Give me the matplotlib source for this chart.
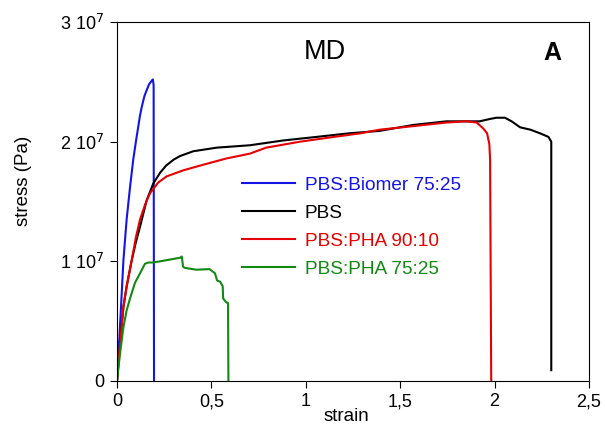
import numpy as np
import matplotlib.pyplot as plt
from matplotlib.ticker import FuncFormatter

plt.rcParams['font.family'] = ['Liberation Sans', 'DejaVu Sans']

# strain / stress (Pa)
strain_biomer = [0, 0.005, 0.012, 0.034, 0.051, 0.069, 0.086, 0.1, 0.113, 0.122, 0.131, 0.145, 0.157, 0.17, 0.184, 0.19, 0.194, 0.196]
stress_biomer = [0, 0.3e7, 0.34e7, 1.01e7, 1.35e7, 1.62e7, 1.85e7, 2.0e7, 2.13e7, 2.22e7, 2.29e7, 2.38e7, 2.43e7, 2.48e7, 2.51e7, 2.52e7, 2.47e7, 0]

strain_pbs = [0, 0.016, 0.034, 0.051, 0.078, 0.1, 0.122, 0.157, 0.192, 0.228, 0.26, 0.3, 0.334, 0.404, 0.528, 0.704, 0.88, 1.058, 1.23,
              1.39, 1.57, 1.745, 1.87, 1.92, 1.976, 2.01, 2.055, 2.09, 2.135, 2.19, 2.24, 2.285, 2.30, 2.30]
stress_pbs = [0, 0.31e7, 0.62e7, 0.79e7, 1.01e7, 1.16e7, 1.29e7, 1.51e7, 1.65e7, 1.74e7, 1.8e7, 1.85e7, 1.88e7, 1.92e7, 1.95e7, 1.97e7, 2.01e7, 2.04e7, 2.07e7,
              2.09e7, 2.14e7, 2.17e7, 2.17e7, 2.17e7, 2.19e7, 2.2e7, 2.2e7, 2.17e7, 2.12e7, 2.1e7, 2.07e7, 2.04e7, 2.0e7, 0.09e7]

strain_pha9010 = [0, 0.016, 0.034, 0.051, 0.078, 0.1, 0.122, 0.15, 0.175, 0.219, 0.263, 0.35, 0.44, 0.58, 0.704, 0.79, 0.97, 1.15, 1.29,
                  1.39, 1.57, 1.745, 1.85, 1.905, 1.94, 1.96, 1.972, 1.976, 1.982]
stress_pha9010 = [0, 0.31e7, 0.62e7, 0.79e7, 1.01e7, 1.2e7, 1.35e7, 1.48e7, 1.57e7, 1.66e7, 1.71e7, 1.76e7, 1.8e7, 1.86e7, 1.9e7, 1.95e7, 2.0e7, 2.04e7, 2.07e7,
                  2.1e7, 2.13e7, 2.16e7, 2.17e7, 2.16e7, 2.11e7, 2.07e7, 1.98e7, 1.85e7, 0]

strain_pha7525 = [0, 0.016, 0.034, 0.051, 0.069, 0.095, 0.122, 0.148, 0.166, 0.192, 0.263, 0.334, 0.343, 0.35, 0.36, 0.42, 0.49,
                  0.519, 0.53, 0.546, 0.56, 0.562, 0.577, 0.588, 0.59]
stress_pha7525 = [0, 0.23e7, 0.45e7, 0.59e7, 0.69e7, 0.82e7, 0.9e7, 0.98e7, 0.99e7, 0.99e7, 1.01e7, 1.03e7, 1.04e7, 0.955e7, 0.945e7, 0.93e7, 0.935e7,
                  0.9e7, 0.84e7, 0.83e7, 0.79e7, 0.69e7, 0.66e7, 0.65e7, 0]

x_ticks = [0, 0.5, 1, 1.5, 2, 2.5]
y_ticks = [0, 1e7, 2e7, 3e7]

fig = plt.figure(figsize=(6.05, 4.29), dpi=100)
ax = fig.add_axes([0.1934, 0.1119, 0.7802, 0.8368])

ax.plot(strain_biomer, stress_biomer, color='#1414e6', lw=1.5, label='PBS:Biomer 75:25')
ax.plot(strain_pbs, stress_pbs, color='black', lw=1.5, label='PBS')
ax.plot(strain_pha9010, stress_pha9010, color='#e60000', lw=1.5, label='PBS:PHA 90:10')
ax.plot(strain_pha7525, stress_pha7525, color='#128a12', lw=1.5, label='PBS:PHA 75:25')

ax.set_xlim(0, 2.5)
ax.set_ylim(0, 3e7)
ax.set_xticks(x_ticks)
ax.set_yticks(y_ticks)
ax.xaxis.set_major_formatter(FuncFormatter(lambda v, p: f'{v:g}'.replace('.', ',')))
ax.yaxis.set_major_formatter(FuncFormatter(lambda v, p: '0' if v == 0 else f'{v/1e7:.0f} 10$^7$'))
ax.tick_params(direction='out', length=5, labelsize=13, width=0.8, pad=4)
for s in ax.spines.values():
    s.set_linewidth(0.8)

ax.set_xlabel('strain', fontsize=13.5)
ax.set_ylabel('stress (Pa)', fontsize=13.5)
ax.xaxis.set_label_coords(0.487, -0.075)
ax.yaxis.set_label_coords(-0.18, 0.557)

ax.text(0.44, 0.917, 'MD', transform=ax.transAxes, fontsize=19.5, ha='center', va='center')
ax.text(0.941, 0.915, 'A', transform=ax.transAxes, fontsize=18, fontweight='bold', ha='right', va='center')

ax.legend(loc='upper left', bbox_to_anchor=(0.265, 0.570), frameon=False, fontsize=13.7,
          labelcolor='linecolor', handlelength=2.8, handletextpad=0.5, labelspacing=0.56,
          borderpad=0, borderaxespad=0)

plt.savefig('out.png', dpi=100)
